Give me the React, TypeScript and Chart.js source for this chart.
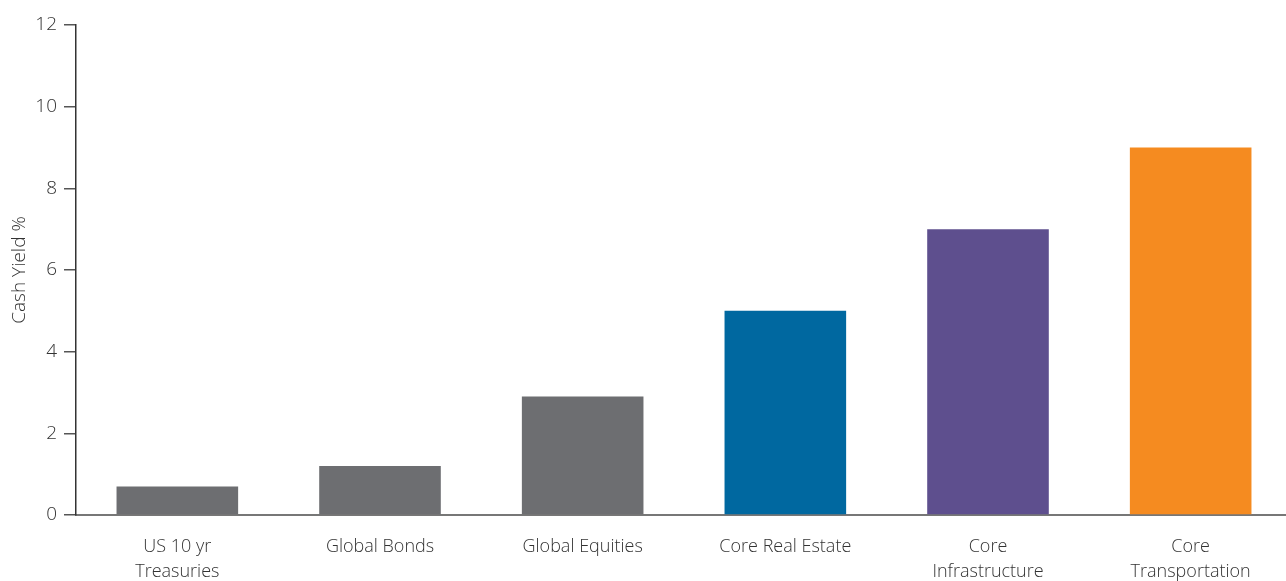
import React, { useEffect, useRef } from "react";
import { Chart, registerables } from "chart.js";

Chart.register(...registerables);

const categories: string[][] = [
  ["US 10 yr", "Treasuries"],
  ["Global Bonds"],
  ["Global Equities"],
  ["Core Real Estate"],
  ["Core", "Infrastructure"],
  ["Core", "Transportation"],
];
const cashYield: number[] = [0.7, 1.2, 2.9, 5.0, 7.0, 9.0];
const barColors: string[] = ["#6d6e71", "#6d6e71", "#6d6e71", "#0068a0", "#5e4f8e", "#f58b20"];
const yTicks: number[] = [0, 2, 4, 6, 8, 10, 12];

const FONT = "'Open Sans', 'Noto Sans', sans-serif";

export default function App() {
  const ref = useRef<HTMLCanvasElement | null>(null);
  useEffect(() => {
    document.body.style.margin = "0";
    if (!ref.current) return;
    const chart = new Chart(ref.current, {
      type: "bar",
      data: {
        labels: categories,
        datasets: [
          {
            data: cashYield,
            backgroundColor: barColors,
            barPercentage: 0.6,
            categoryPercentage: 1.0,
          },
        ],
      },
      options: {
        animation: false,
        responsive: false,
        maintainAspectRatio: false,
        layout: { padding: { top: 25, right: 0, left: 0, bottom: 0 } },
        plugins: { legend: { display: false }, tooltip: { enabled: false } },
        scales: {
          x: {
            grid: { display: false, drawTicks: false },
            border: { display: true, color: "#777777", width: 2 },
            ticks: {
              color: "#333333",
              font: { family: FONT, size: 18, weight: 300 as any, lineHeight: 1.39 },
              padding: 19,
              maxRotation: 0,
              autoSkip: false,
            },
            afterFit: (s: any) => {
              s.height = 66;
            },
          },
          y: {
            min: 0,
            max: 12,
            afterBuildTicks: (s: any) => {
              s.ticks = yTicks.map((v) => ({ value: v }));
            },
            grid: {
              drawOnChartArea: false,
              drawTicks: true,
              tickLength: 12,
              color: "#555555",
              lineWidth: 1.5,
            },
            border: { display: true, color: "#333333", width: 1.5 },
            ticks: {
              color: "#333333",
              font: { family: FONT, size: 19, weight: 300 as any },
              padding: 7,
            },
            title: {
              display: true,
              text: "Cash Yield %",
              color: "#333333",
              font: { family: FONT, size: 19, weight: 300 as any, lineHeight: 1.2 },
              padding: { top: 8, bottom: 0 },
            },
            afterFit: (s: any) => {
              s.width = 76;
            },
          },
        },
      },
    });
    return () => chart.destroy();
  }, []);
  return (
    <div style={{ position: "absolute", left: 0, top: 0, width: 1286, height: 581, overflow: "hidden", background: "#fff" }}>
      <canvas ref={ref} width={1292} height={581} style={{ display: "block" }} />
    </div>
  );
}
